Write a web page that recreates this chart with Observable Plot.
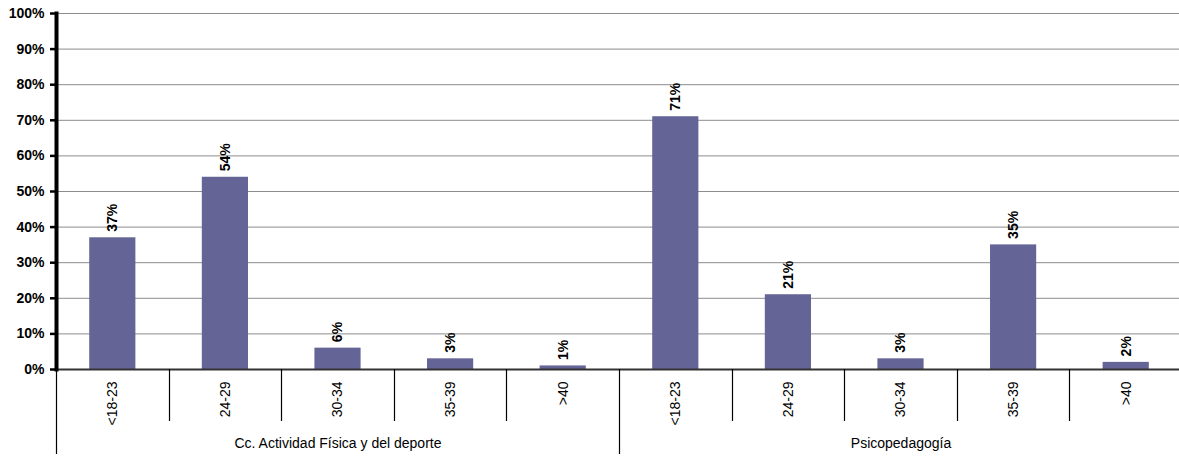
<!DOCTYPE html>
<html>
<head>
<meta charset="utf-8">
<script src="https://cdn.jsdelivr.net/npm/d3@7"></script>
<script src="https://cdn.jsdelivr.net/npm/@observablehq/plot@0.6"></script>
<style>
  html, body { margin: 0; padding: 0; background: #fff; }
  #chart svg { display: block; }
</style>
</head>
<body>
<div id="chart"></div>
<script>
// ---- data ----
const groups = ["Cc. Actividad Física y del deporte", "Psicopedagogía"];
const ages = ["<18-23", "24-29", "30-34", "35-39", ">40"];
const valuesActividad = [37, 54, 6, 3, 1];
const valuesPsico = [71, 21, 3, 35, 2];
const yTicks = [0, 10, 20, 30, 40, 50, 60, 70, 80, 90, 100];

const seriesValues = [valuesActividad, valuesPsico];
const rows = [];
groups.forEach((g, gi) => ages.forEach((a, ai) => rows.push({group: g, age: a, key: g + "|" + a, value: seriesValues[gi][ai]})));
const keys = rows.map(d => d.key);
const groupRows = groups.map(g => ({group: g, key: g + "|" + ages[2]}));

const font = '"Liberation Sans", Arial, sans-serif';
const FS = 14;
const W = 1179, H = 459, ML = 56, MT = 13, MB = 90;
const step = 112.6;

const plot = Plot.plot({
  width: W,
  height: H,
  marginLeft: ML,
  marginRight: 0,
  marginTop: MT,
  marginBottom: MB,
  style: {fontFamily: font, fontSize: FS + "px", color: "#000", background: "#fff"},
  x: {type: "band", domain: keys, range: [ML, ML + step * keys.length], round: false, paddingInner: 0.59, paddingOuter: 0.295, axis: null, label: null},
  y: {domain: [0, 100], axis: null, label: null},
  marks: [
    Plot.ruleY(yTicks.filter(d => d > 0), {stroke: "#8c8c8c", strokeWidth: 1}),
    Plot.barY(rows, {x: "key", y: "value", fill: "#646496"}),
    Plot.ruleY([0], {stroke: "#333", strokeWidth: 2}),
    Plot.axisY({ticks: yTicks, tickSize: 6, tickPadding: 6, tickFormat: d => d + "%", stroke: "#000", strokeWidth: 2.5, fontWeight: "bold", fontSize: FS, fill: "#000", label: null}),
    Plot.frame({anchor: "left", stroke: "#000", strokeWidth: 4}),
    Plot.text(rows, {x: "key", y: "value", text: d => d.value + "%", rotate: -90, textAnchor: "start", dy: -6, fontWeight: "bold", fontSize: FS, fill: "#000"}),
    Plot.text(rows, {x: "key", y: () => 0, text: "age", rotate: -90, textAnchor: "end", dy: 12, fontSize: FS, fill: "#000"}),
    Plot.text(groupRows, {x: "key", y: () => 0, text: "group", dy: 74, fontSize: FS, fill: "#000"})
  ]
});

// separators under the category axis, positioned from the plot's scales
const xs = plot.scale("x");
const ys = plot.scale("y");
const y0 = ys.apply(0);
const off = (xs.step - xs.bandwidth) / 2;
const bounds = keys.map(k => xs.apply(k) - off);
bounds.push(bounds[bounds.length - 1] + xs.step);
const sep = d3.select(plot).append("g").attr("stroke", "#000").attr("stroke-width", 1.2);
bounds.forEach((b, i) => {
  const long = i % ages.length === 0;
  sep.append("line")
    .attr("x1", Math.round(b) + 0.5).attr("x2", Math.round(b) + 0.5)
    .attr("y1", y0).attr("y2", y0 + (long ? 85 : 52));
});

document.getElementById("chart").appendChild(plot);
</script>
</body>
</html>
